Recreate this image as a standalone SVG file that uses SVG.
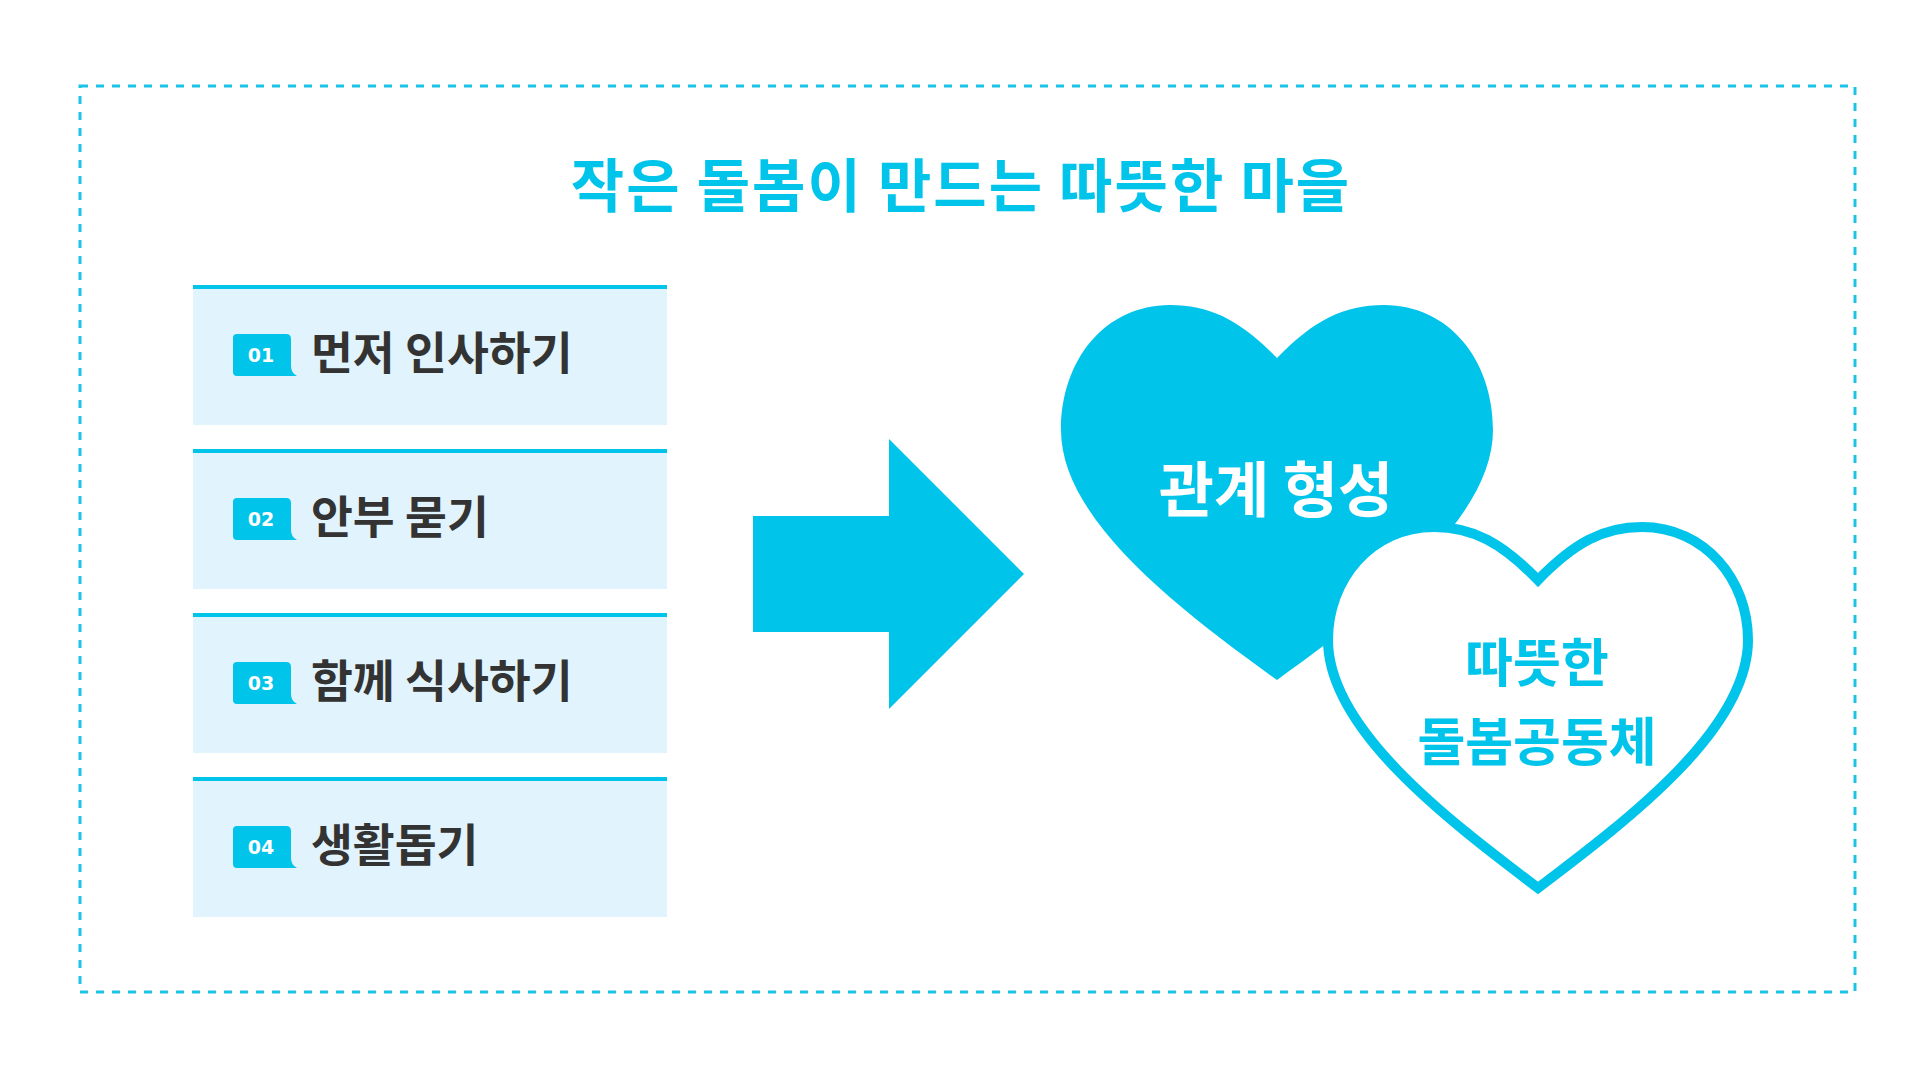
<svg xmlns="http://www.w3.org/2000/svg" width="1920" height="1080" viewBox="0 0 1920 1080">
<style>
.frame{fill:none;stroke:#1CC3E6;stroke-width:3;stroke-dasharray:8 8}
.panel{fill:#E1F3FC}
.bar{fill:#00C4EA}
.badge{fill:#00C4EA}
.num{font-family:"DejaVu Sans","Noto Sans",sans-serif;font-weight:700;font-size:19px;fill:#fff;text-anchor:middle}
.lbl{font-family:"Noto Sans CJK KR","Noto Sans",sans-serif;font-weight:700;font-size:45.5px;fill:#333333}
.title{font-family:"Noto Sans CJK KR","Noto Sans",sans-serif;font-weight:700;font-size:58px;letter-spacing:2px;fill:#00C4EA;text-anchor:middle}
.hw{font-family:"Noto Sans CJK KR","Noto Sans",sans-serif;font-weight:700;font-size:60px;fill:#fff;text-anchor:middle}
.hc{font-family:"Noto Sans CJK KR","Noto Sans",sans-serif;font-weight:700;font-size:52px;fill:#00C4EA;text-anchor:middle}
</style>
<defs>
<path id="badgeShape" d="M237,0 H286 Q291,0 291,5 V32 Q291,39 297,42 H237 Q233,42 233,38 V4 Q233,0 237,0 Z"/>
</defs>
<rect width="1920" height="1080" fill="#fff"/>
<rect class="frame" x="80" y="86" width="1775" height="906"/>
<text class="title" x="961" y="207">작은 돌봄이 만드는 따뜻한 마을</text>

<g id="step1">
<rect class="panel" x="193" y="286" width="474" height="139"/>
<rect class="bar" x="193" y="285" width="474" height="4"/>
<use href="#badgeShape" class="badge" y="334"/>
<text class="num" x="261" y="362">01</text>
<text class="lbl" x="311" y="370">먼저 인사하기</text>
</g>
<g id="step2">
<rect class="panel" x="193" y="450" width="474" height="139"/>
<rect class="bar" x="193" y="449" width="474" height="4"/>
<use href="#badgeShape" class="badge" y="498"/>
<text class="num" x="261" y="526">02</text>
<text class="lbl" x="311" y="534">안부 묻기</text>
</g>
<g id="step3">
<rect class="panel" x="193" y="614" width="474" height="139"/>
<rect class="bar" x="193" y="613" width="474" height="4"/>
<use href="#badgeShape" class="badge" y="662"/>
<text class="num" x="261" y="690">03</text>
<text class="lbl" x="311" y="698">함께 식사하기</text>
</g>
<g id="step4">
<rect class="panel" x="193" y="778" width="474" height="139"/>
<rect class="bar" x="193" y="777" width="474" height="4"/>
<use href="#badgeShape" class="badge" y="826"/>
<text class="num" x="261" y="854">04</text>
<text class="lbl" x="311" y="862">생활돕기</text>
</g>

<g id="connectors">
<path d="M753,516 H889 V439 L1024,574 L889,709 V632 H753 Z" fill="#00C4EA"/>
</g>

<g id="heart-relation">
<path d="M1277,358 C1240,320 1210,305 1170,305 C1105,305 1061,360 1061,430 C1061,520 1180,610 1277,680 C1374,610 1493,520 1493,430 C1493,360 1449,305 1384,305 C1344,305 1314,320 1277,358 Z" fill="#00C4EA"/>
<text class="hw" x="1276" y="512">관계 형성</text>
</g>
<g id="heart-community">
<path d="M1538,580 C1502,543 1473,527 1434,527 C1371,527 1328,580 1328,640 C1328,728 1444,817 1538,888 C1632,817 1748,728 1748,640 C1748,580 1705,527 1642,527 C1603,527 1574,543 1538,580 Z" fill="#fff" stroke="#00C4EA" stroke-width="10" stroke-linejoin="miter"/>
<text class="hc" x="1537" y="682">따뜻한</text>
<text class="hc" x="1537" y="761">돌봄공동체</text>
</g>
</svg>
